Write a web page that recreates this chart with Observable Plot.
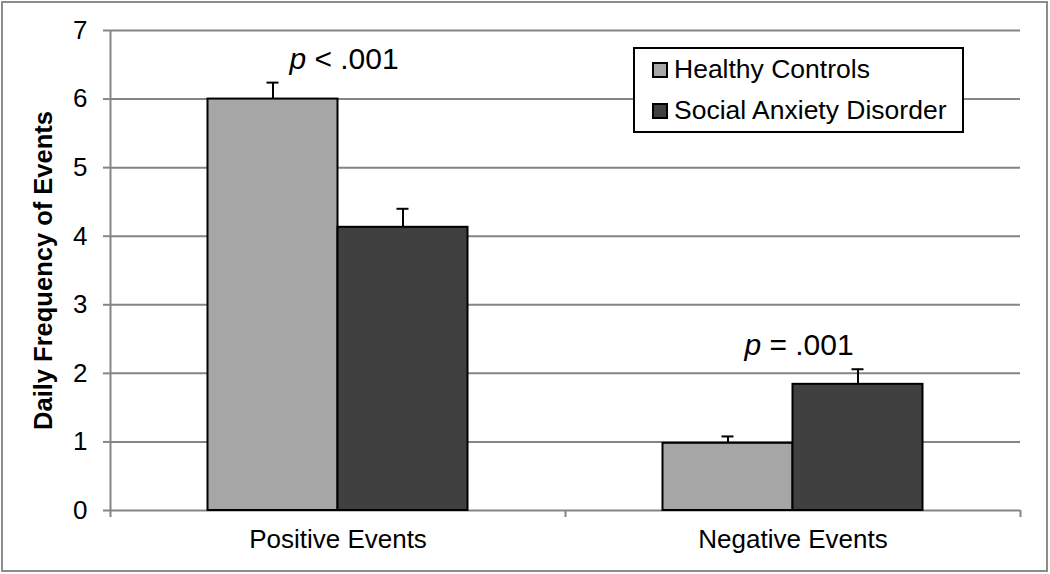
<!DOCTYPE html>
<html>
<head>
<meta charset="utf-8">
<script src="https://cdn.jsdelivr.net/npm/d3@7"></script>
<script src="https://cdn.jsdelivr.net/npm/@observablehq/plot@0.6"></script>
<style>
  html, body { margin: 0; padding: 0; background: #fff; }
  #wrap { position: relative; width: 1050px; height: 574px; overflow: hidden; font-family: "Liberation Sans", Arial, sans-serif; }
  #border { position: absolute; left: 1px; top: 1px; width: 1047px; height: 571px; box-sizing: border-box; border: 2px solid #8c8c8c; pointer-events: none; }
  #legend { position: absolute; left: 633px; top: 47px; width: 331px; height: 86px; box-sizing: border-box; border: 2px solid #000; background: #fff; font-size: 26.5px; color: #000; }
  .row { position: absolute; left: 17px; display: flex; align-items: center; white-space: nowrap; }
  .sw { width: 12px; height: 12px; border: 2px solid #000; margin-right: 6px; box-sizing: content-box; }
</style>
</head>
<body>
<div id="wrap"></div>
<script>
// ---- data ----
const categories = ["Positive Events", "Negative Events"];
const groups = ["Healthy Controls", "Social Anxiety Disorder"];
const groupColors = ["#a6a6a6", "#404040"];
const hcMeans = [6.0, 0.98];
const sadMeans = [4.13, 1.84];
const hcErrors = [0.24, 0.10];
const sadErrors = [0.27, 0.22];
const pLabels = ["p < .001", "p = .001"];
const yTicks = [0, 1, 2, 3, 4, 5, 6, 7];
const yTitle = "Daily Frequency of Events";

// ---- layout (Excel-like clustered columns, gap width 150%) ----
const gapWidth = 1.5;
const barW = 1 / (groups.length + gapWidth);
const means = [hcMeans, sadMeans];
const errors = [hcErrors, sadErrors];
const rows = categories.flatMap((c, i) => groups.map((g, j) => {
  const x1 = i + 0.5 + (j - groups.length / 2) * barW;
  return {category: c, group: g, mean: means[j][i], err: errors[j][i],
          x1, x2: x1 + barW, xc: x1 + barW / 2, top: means[j][i] + errors[j][i]};
}));
const pRows = categories.map((c, i) => ({
  x: i + 0.5,
  y: d3.max(rows.filter(r => r.category === c), r => r.top),
  label: pLabels[i]
}));

const gray = "#858585";
const chart = Plot.plot({
  width: 1050,
  height: 574,
  marginLeft: 110,
  marginRight: 30,
  marginTop: 30,
  marginBottom: 64,
  style: {fontFamily: "'Liberation Sans', Arial, sans-serif", fontSize: "26px", background: "transparent", color: "#000"},
  x: {domain: [0, categories.length], axis: null},
  y: {domain: [0, 7], axis: null},
  color: {domain: groups, range: groupColors},
  marks: [
    Plot.ruleY(yTicks, {stroke: gray, strokeWidth: 2}),
    Plot.ruleX([0], {y1: 0, y2: 7, stroke: gray, strokeWidth: 2}),
    Plot.axisY({ticks: yTicks, tickSize: 7, tickPadding: 16, stroke: gray, strokeWidth: 2, fill: "#000", fontSize: 26, tickFormat: d3.format("d"), label: null}),
    Plot.axisX({ticks: d3.range(categories.length + 1), tickSize: 7, stroke: gray, strokeWidth: 2, tickFormat: () => "", label: null}),
    Plot.axisX({ticks: categories.map((c, i) => i + 0.5), tickSize: 0, tickPadding: 19, fill: "#000", fontSize: 26, tickFormat: d => categories[Math.floor(d)], label: null}),
    Plot.rectY(rows, {x1: "x1", x2: "x2", y1: 0, y2: "mean", fill: "group", stroke: "#000", strokeWidth: 2}),
    Plot.ruleX(rows, {x: "xc", y1: "mean", y2: "top", stroke: "#000", strokeWidth: 2}),
    Plot.ruleY(rows, {x1: "xc", x2: "xc", y: "top", insetLeft: -6, insetRight: -6, stroke: "#000", strokeWidth: 2}),
    Plot.text(pRows, {x: "x", y: "y", text: "label", lineAnchor: "bottom", dy: -14, dx: 6, fontSize: 30, fill: "#000", className: "pvalue"}),
    Plot.text([yTitle], {frameAnchor: "left", textAnchor: "middle", dx: -67, rotate: -90, fontWeight: "bold", fontSize: 25.5, fill: "#000"})
  ]
});

// italicize the leading "p" of the p-value labels
d3.select(chart).selectAll(".pvalue text").each(function() {
  const t = d3.select(this);
  const s = t.text();
  t.text(null);
  t.append("tspan").attr("font-style", "italic").text(s.slice(0, 1));
  t.append("tspan").text(s.slice(1));
});

const wrap = document.getElementById("wrap");
wrap.appendChild(chart);
chart.style.position = "absolute";
chart.style.left = "0";
chart.style.top = "0";

// legend
const legend = document.createElement("div");
legend.id = "legend";
groups.forEach((g, j) => {
  const row = document.createElement("div");
  row.className = "row";
  row.style.top = (j === 0 ? 5 : 46) + "px";
  const sw = document.createElement("div");
  sw.className = "sw";
  sw.style.background = groupColors[j];
  const label = document.createElement("span");
  label.textContent = g;
  row.appendChild(sw);
  row.appendChild(label);
  legend.appendChild(row);
});
wrap.appendChild(legend);
const border = document.createElement("div");
border.id = "border";
wrap.appendChild(border);
</script>
</body>
</html>
